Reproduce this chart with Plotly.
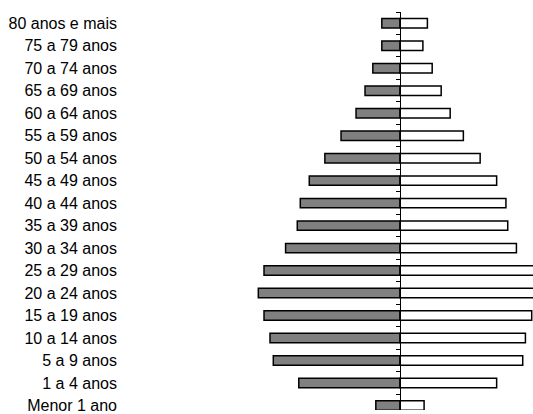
import plotly.graph_objects as go

categories = ["80 anos e mais", "75 a 79 anos", "70 a 74 anos", "65 a 69 anos",
              "60 a 64 anos", "55 a 59 anos", "50 a 54 anos", "45 a 49 anos",
              "40 a 44 anos", "35 a 39 anos", "30 a 34 anos", "25 a 29 anos",
              "20 a 24 anos", "15 a 19 anos", "10 a 14 anos", "5 a 9 anos",
              "1 a 4 anos", "Menor 1 ano"]
homens = [0.61, 0.61, 0.91, 1.17, 1.47, 1.97, 2.51, 3.03, 3.33, 3.43,
          3.82, 4.54, 4.73, 4.54, 4.34, 4.23, 3.38, 0.81]
mulheres = [0.91, 0.76, 1.07, 1.37, 1.67, 2.11, 2.67, 3.22, 3.53, 3.59,
            3.88, 4.60, 4.80, 4.39, 4.18, 4.09, 3.22, 0.80]

idx = list(range(len(categories)))
L = 122
W, H = 533, 414
x_left, x_right = -9.277, 4.433
yrange = [17.20, -0.5]

fig = go.Figure()
fig.add_trace(go.Bar(
    y=idx, x=[-v for v in homens], orientation="h", width=0.42,
    marker=dict(color="#808080", line=dict(color="black", width=1.5)),
    showlegend=False, hoverinfo="skip"))
fig.add_trace(go.Bar(
    y=idx, x=mulheres, orientation="h", width=0.42, yaxis="y2",
    marker=dict(color="white", line=dict(color="black", width=1.5)),
    showlegend=False, hoverinfo="skip"))

pos0 = (0 - x_left) / (x_right - x_left)

fig.update_layout(
    width=W, height=H,
    margin=dict(l=L, r=0, t=12, b=0, pad=0),
    paper_bgcolor="white", plot_bgcolor="white",
    barmode="overlay",
    font=dict(family="Liberation Sans, Arial, sans-serif", size=16, color="black"),
    xaxis=dict(range=[x_left, x_right], showgrid=False, zeroline=False,
               showticklabels=False, ticks="", showline=False, fixedrange=True),
    yaxis=dict(range=yrange, tickmode="array", tickvals=idx, ticktext=categories,
               showgrid=False, zeroline=False, showline=False, ticks="",
               ticklabelstandoff=4, tickfont=dict(size=16),
               ticklabeloverflow="allow"),
    yaxis2=dict(range=yrange, overlaying="y", anchor="free", position=pos0,
                side="left", showline=True, linecolor="black", linewidth=1,
                ticks="outside", ticklen=4, tickcolor="black", tickwidth=1,
                tickmode="array", tickvals=[i - 0.5 for i in range(len(categories) + 1)],
                showticklabels=False, showgrid=False, zeroline=False),
)

post = ("document.body.style.margin='0';"
        "document.body.style.overflow='hidden';"
        "document.documentElement.style.overflow='hidden';")

fig.write_html("out.html", post_script=post,
               config={"displayModeBar": False, "staticPlot": True})
